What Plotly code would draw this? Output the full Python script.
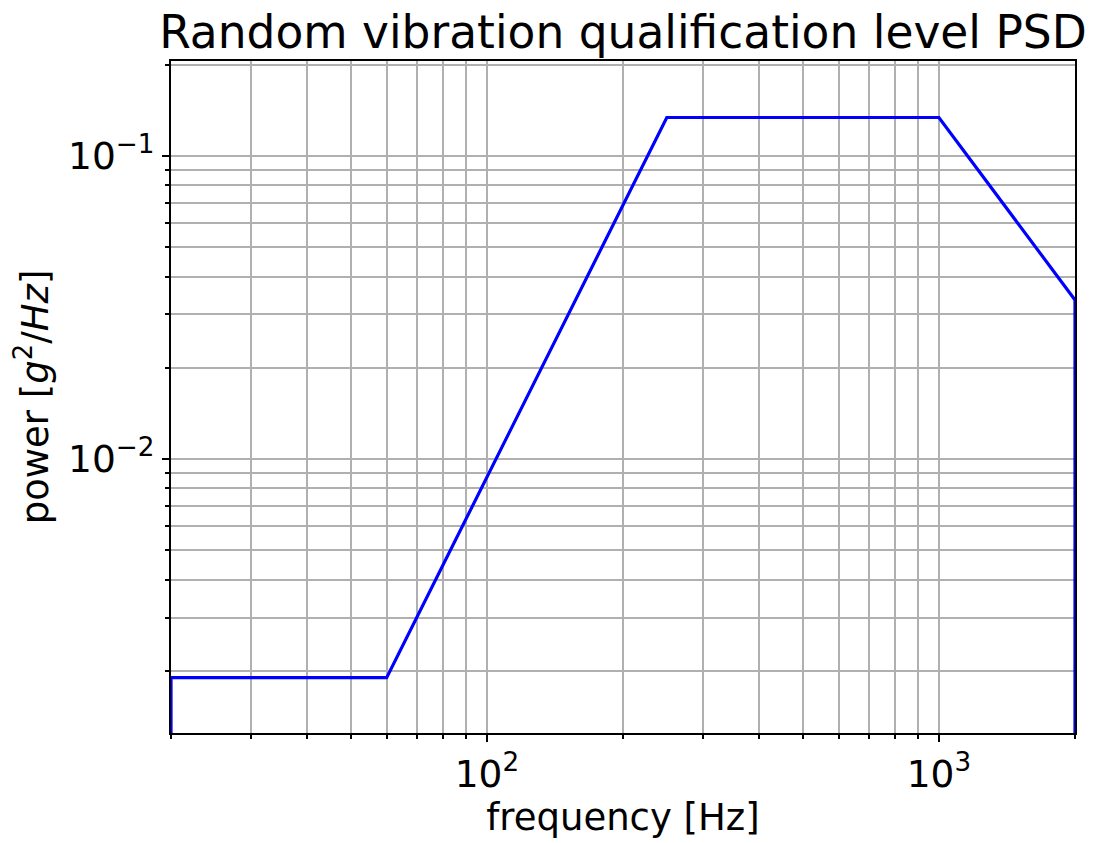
import plotly.graph_objects as go

# Data (PSD profile, endpoints drop to zero -> drawn to the bottom edge)
freq = [20, 20, 60, 250, 1000, 2000, 2000]
psd = [1e-6, 0.0019, 0.0019, 0.134, 0.134, 0.0335, 1e-6]

x_major = [100, 1000]
x_major_text = ["10<sup>2</sup>", "10<sup>3</sup>"]
y_major = [0.01, 0.1]
y_major_text = ["10<sup>\u22122</sup>", "10<sup>\u22121</sup>"]

x_minor = [m * 10 ** e for e in (1, 2, 3) for m in range(2, 10) if 20 <= m * 10 ** e <= 2000]
y_minor = [m * 10 ** e for e in (-3, -2, -1) for m in range(2, 10) if 0.00125 <= m * 10 ** e <= 0.206]

FONT = "DejaVu Sans"
GRID = "#b0b0b0"

fig = go.Figure()
fig.add_trace(go.Scatter(x=freq, y=psd, mode="lines",
                         line=dict(color="#0000ff", width=3.2),
                         showlegend=False, cliponaxis=True))

axis_common = dict(
    type="log", showline=True, linecolor="black", linewidth=2, mirror=True,
    ticks="outside", ticklen=7, tickwidth=2, tickcolor="black",
    showgrid=True, gridcolor=GRID, gridwidth=2, zeroline=False,
    tickfont=dict(family=FONT, size=37.5, color="black"),
)

minor_common = dict(tickmode="array", ticks="outside", ticklen=4, tickwidth=1.5,
                    tickcolor="black", showgrid=True, gridcolor=GRID, gridwidth=2)

fig.update_xaxes(**axis_common, range=[1.30103, 3.30103],
                 tickmode="array", tickvals=x_major, ticktext=x_major_text,
                 minor=dict(tickvals=x_minor, **minor_common),
                 title=dict(text="frequency [Hz]", font=dict(family=FONT, size=37, color="black"), standoff=8))
fig.update_yaxes(**axis_common, range=[-2.904, -0.6865],
                 tickmode="array", tickvals=y_major, ticktext=y_major_text,
                 minor=dict(tickvals=y_minor, **minor_common),
                 title=dict(text="power [<i>g</i><sup>2</sup>/<i>Hz</i>]", font=dict(family=FONT, size=37, color="black"), standoff=10))

fig.update_layout(
    width=1088, height=835,
    margin=dict(l=163, r=21, t=53, b=110, autoexpand=False),
    paper_bgcolor="white", plot_bgcolor="white",
    title=dict(text="Random vibration qualification level PSD",
               font=dict(family=FONT, size=45.5, color="black"),
               x=(163 + 452) / 1088, xanchor="center",
               yref="container", y=1 - 24 / 835, yanchor="middle"),
)

fig.write_html("out.html")
